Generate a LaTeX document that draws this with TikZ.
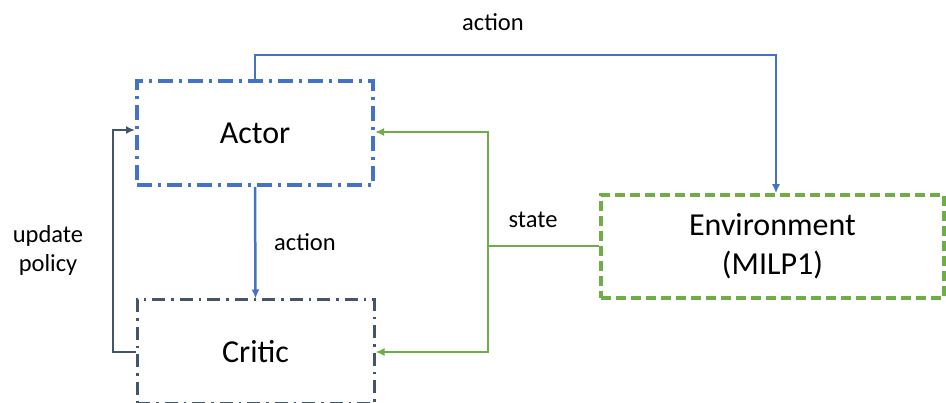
\documentclass[tikz,border=0pt]{standalone}
\usepackage{fontspec}
\setmainfont{Carlito}
\usetikzlibrary{arrows.meta}
\definecolor{actorblue}{HTML}{4472C4}
\definecolor{criticgray}{HTML}{44546A}
\definecolor{envgreen}{HTML}{70AD47}
\tikzset{
  box/.style={draw, minimum width=#1, inner sep=0pt, font=\fontsize{32}{39}\selectfont, align=center},
  lbl/.style={font=\fontsize{24.5}{29}\selectfont, inner sep=0pt},
  conn/.style={line width=2.5pt, -{Latex[length=9pt,width=8pt]}},
}
\begin{document}
\begin{tikzpicture}[x=1pt,y=-1pt]
\useasboundingbox (0,0) rectangle (946,403);
% blocks
\node[box=236pt, minimum height=104pt, actorblue, line width=4pt,
      dash pattern=on 15pt off 6pt on 3pt off 6pt, text=black] (actor) at (255,133) {Actor};
\node[box=237pt, minimum height=104pt, criticgray, line width=3pt,
      dash pattern=on 13pt off 6pt on 2.5pt off 6pt, text=black] (critic) at (255.5,352) {Critic};
\node[box=343pt, minimum height=103pt, envgreen, line width=3.5pt,
      dash pattern=on 10pt off 5pt, text=black] (env) at (772.5,246.5) {Environment\\(MILP1)};
% actions
\coordinate (a1) at (255,55);
\coordinate (a2) at (776,55);
\draw[conn, actorblue] (actor.north) -- (a1) -- (a2) -- (env.north -| a2);
\node[lbl] (lact1) at (493,22) {action};
\draw[conn, actorblue] (actor.south) -- (critic.north);
\node[lbl] (lact2) at (305,242) {action};
% state
\coordinate (s0) at (488,246);
\coordinate (s1) at (488,132);
\coordinate (s2) at (488,352);
\draw[line width=2.5pt, envgreen] (env.west |- s0) -- (s0);
\draw[conn, envgreen] (s0) -- (s1) -- (actor.east |- s1);
\draw[conn, envgreen] (s0) -- (s2) -- (critic.east |- s2);
\node[lbl] (lstate) at (533,220) {state};
% policy update
\coordinate (u1) at (113,352);
\coordinate (u2) at (113,130);
\draw[conn, criticgray] (critic.west |- u1) -- (u1) -- (u2) -- (actor.west |- u2);
\node[lbl, align=center] (lupd) at (48,250) {update\\policy};
\end{tikzpicture}
\end{document}
